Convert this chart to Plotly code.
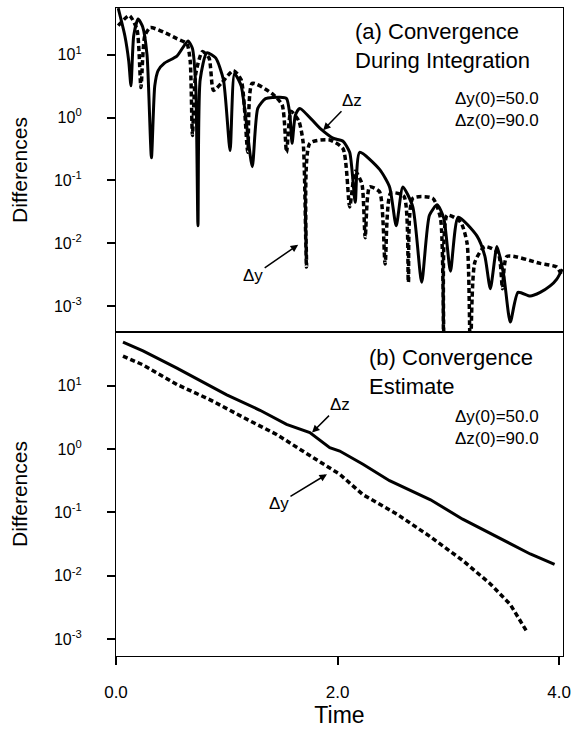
import math
import plotly.graph_objects as go

# ---------------- Panel (a): Convergence during integration ----------------
t_dz_a = [0.02, 0.08, 0.115, 0.135, 0.16, 0.20, 0.24, 0.28, 0.32, 0.35, 0.38, 0.44,
          0.55, 0.65, 0.69, 0.72, 0.74, 0.76, 0.82, 0.90, 0.97, 1.03, 1.07, 1.13,
          1.23, 1.28, 1.35, 1.48, 1.54, 1.57, 1.59, 1.62, 1.66, 1.84, 1.96, 2.05,
          2.11, 2.16, 2.20, 2.38, 2.47, 2.53, 2.59, 2.68, 2.76, 2.83, 2.90, 2.96,
          3.02, 3.09, 3.26, 3.33, 3.38, 3.44, 3.50, 3.56, 3.63, 3.74, 3.83, 3.92,
          3.98, 4.03]
dz_a = [55, 20, 7.9, 3.2, 20, 37, 28, 10, 0.23, 3.2, 5.6, 7.4,
        9.5, 16.6, 12.6, 3.2, 0.019, 4.0, 10.7, 8.9, 4.0, 0.30, 5.0, 3.2,
        0.166, 1.4, 2.0, 2.1, 2.0, 1.1, 0.39, 1.1, 1.4, 0.68, 0.47, 0.42,
        0.28, 0.045, 0.28, 0.15, 0.079, 0.019, 0.079, 0.038, 0.0024, 0.028, 0.041, 0.025,
        0.0036, 0.026, 0.013, 0.0063, 0.0019, 0.0089, 0.0032, 0.00056, 0.00166, 0.00145, 0.00166, 0.0021,
        0.0027, 0.0039]

t_dy_a = [0.02, 0.12, 0.19, 0.225, 0.26, 0.31, 0.45, 0.55, 0.64, 0.67, 0.69, 0.72,
          0.78, 0.84, 0.88, 0.95, 1.06, 1.13, 1.19, 1.23, 1.41, 1.50, 1.54, 1.58,
          1.65, 1.69, 1.72, 1.75, 1.93, 2.05, 2.11, 2.16, 2.22, 2.25, 2.29, 2.38,
          2.43, 2.48, 2.60, 2.64, 2.68, 2.86, 2.93, 2.96, 2.99, 3.11, 3.17, 3.20,
          3.24, 3.33, 3.45, 3.49, 3.53, 3.83, 3.98, 4.02]
dy_a = [29, 42, 25, 3.0, 20, 27, 22, 18, 15, 7.9, 0.52, 5.0,
        11.2, 8.9, 2.7, 3.5, 5.6, 4.0, 0.28, 3.5, 2.4, 1.6, 0.28, 1.26,
        0.89, 0.40, 0.0042, 0.39, 0.44, 0.32, 0.038, 0.14, 0.089, 0.0123, 0.079, 0.066,
        0.0047, 0.063, 0.056, 0.0024, 0.052, 0.052, 0.025, 0.00016, 0.028, 0.022, 0.010, 0.00016,
        0.005, 0.0089, 0.0071, 0.0019, 0.0062, 0.0048, 0.0042, 0.0032]

# ---------------- Panel (b): Convergence estimate ----------------
t_dz_b = [0.063, 0.244, 0.55, 1.00, 1.30, 1.54, 1.75, 1.93, 2.02, 2.23, 2.47, 2.84,
          3.13, 3.44, 3.74, 3.96]
dz_b = [49, 35.5, 19, 7.2, 4.1, 2.45, 1.82, 1.05, 0.93, 0.575, 0.316, 0.158,
        0.078, 0.041, 0.022, 0.015]

t_dy_b = [0.063, 0.244, 0.55, 0.85, 1.15, 1.45, 1.75, 2.02, 2.23, 2.54, 2.84, 3.13,
          3.38, 3.56, 3.71]
dy_b = [29.5, 21.4, 10.5, 6.0, 3.16, 1.70, 0.79, 0.40, 0.19, 0.093, 0.041, 0.0174,
        0.0074, 0.0035, 0.0013]

y_tick_vals = [1e-3, 1e-2, 1e-1, 1, 10]
y_tick_text = ["10<sup>-3</sup>", "10<sup>-2</sup>", "10<sup>-1</sup>",
               "10<sup>0</sup>", "10<sup>1</sup>"]
x_tick_vals = [0, 2, 4]
x_tick_text = ["0.0", "2.0", "4.0"]

FONT = "Liberation Sans, Arial, Helvetica, sans-serif"
solid_a = dict(color="black", width=3, shape="spline", smoothing=0.6)
dashed_a = dict(color="black", width=3.5, dash="5px,3px", shape="spline", smoothing=0.6)
solid = dict(color="black", width=3)
dashed = dict(color="black", width=3.5, dash="5px,3px")

fig = go.Figure()
fig.add_trace(go.Scatter(x=t_dy_a, y=dy_a, mode="lines", line=dashed_a, xaxis="x", yaxis="y"))
fig.add_trace(go.Scatter(x=t_dz_a, y=dz_a, mode="lines", line=solid_a, xaxis="x", yaxis="y"))
fig.add_trace(go.Scatter(x=t_dy_b, y=dy_b, mode="lines", line=dashed, xaxis="x2", yaxis="y2"))
fig.add_trace(go.Scatter(x=t_dz_b, y=dz_b, mode="lines", line=solid, xaxis="x2", yaxis="y2"))

axis_common = dict(showline=True, mirror=True, linecolor="black", linewidth=1.3,
                   showgrid=False, zeroline=False)
yax = dict(axis_common, type="log", tickvals=y_tick_vals, ticktext=y_tick_text,
           ticks="outside", ticklen=8, tickwidth=1.5, tickcolor="black",
           tickfont=dict(family=FONT, size=16, color="black"),
           ticklabelstandoff=22,
           title=dict(text="Differences", font=dict(family=FONT, size=21, color="black"),
                      standoff=20))

fig.update_layout(
    width=580, height=731,
    margin=dict(l=116, r=17, t=7, b=72),
    paper_bgcolor="white", plot_bgcolor="white",
    showlegend=False,
    font=dict(family=FONT, color="black"),
    xaxis=dict(axis_common, domain=[0, 1], range=[0, 4.036], anchor="y",
               showticklabels=False, ticks=""),
    yaxis=dict(yax, domain=[0.5, 1], range=[-3.41, 1.743], anchor="x"),
    xaxis2=dict(axis_common, domain=[0, 1], range=[0, 4.036], anchor="y2",
                tickvals=x_tick_vals, ticktext=x_tick_text,
                ticks="outside", ticklen=8, tickwidth=1.5, tickcolor="black",
                tickfont=dict(family=FONT, size=17, color="black"),
                ticklabelstandoff=12,
                title=dict(text="Time", font=dict(family=FONT, size=23, color="black"),
                           standoff=6)),
    yaxis2=dict(yax, domain=[0, 0.5], range=[-3.27, 1.85], anchor="x2"),
)

def px_x(p):
    return (p - 116) / 447.0

def px_y(p):
    return (659 - p) / 652.0

big = dict(family=FONT, size=22, color="black")
small = dict(family=FONT, size=17, color="black")

texts = [
    ("(a) Convergence<br>During Integration", 353, 45, "left", big),
    ("\u0394y(0)=50.0<br>\u0394z(0)=90.0", 541, 109, "right", small),
    ("(b) Convergence<br>Estimate", 367, 373, "left", big),
    ("\u0394y(0)=50.0<br>\u0394z(0)=90.0", 541, 429, "right", small),
]
for txt, px, py, anchor, f in texts:
    fig.add_annotation(text=txt, xref="paper", yref="paper", x=px_x(px), y=px_y(py),
                       xanchor=anchor, yanchor="middle", align="left",
                       showarrow=False, font=f)

# arrows: (label, x-axis, y-axis, head time, head value, ax, ay)
arrows = [
    ("\u0394z", "x", "y", 1.87, 0.63, 29, -30),
    ("\u0394y", "x", "y", 1.645, 0.0095, -45, 31),
    ("\u0394z", "x2", "y2", 1.77, 1.82, 28, -28),
    ("\u0394y", "x2", "y2", 1.905, 0.40, -48, 29),
]
for lab, xr, yr, hx, hy, ax, ay in arrows:
    fig.add_annotation(text=lab, xref=xr, yref=yr, x=hx, y=math.log10(hy),
                       ax=ax, ay=ay, showarrow=True, arrowhead=2, arrowsize=1,
                       arrowwidth=1.5, arrowcolor="black", standoff=0,
                       font=dict(family=FONT, size=17, color="black"))

fig.write_html("out.html", config={"displayModeBar": False},
               post_script="document.body.style.margin='0';")
